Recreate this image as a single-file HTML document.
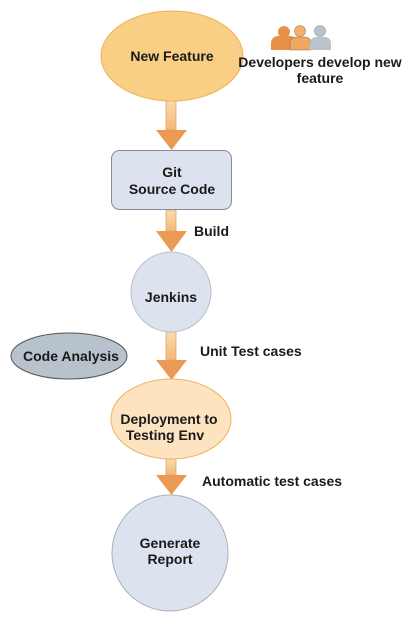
<!DOCTYPE html>
<html><head><meta charset="utf-8"><style>
html,body{margin:0;padding:0;background:#fff;}
svg text{font-family:"Liberation Sans",sans-serif;font-weight:bold;font-size:14px;fill:#1a1a1a;}
</style></head><body>
<svg width="416" height="622" viewBox="0 0 416 622" xmlns="http://www.w3.org/2000/svg">
<defs>
<linearGradient id="sh" x1="0" x2="0" y1="0" y2="1"><stop offset="0" stop-color="#f9dcb0"/><stop offset="1" stop-color="#f3b878"/></linearGradient>
</defs>
<g fill="url(#sh)" stroke="#e0a46a" stroke-width="0.8">
<rect x="166" y="100" width="10" height="30"/>
<rect x="166" y="210" width="10" height="21"/>
<rect x="166" y="332" width="10" height="28"/>
<rect x="166" y="459" width="10" height="16"/>
</g>
<g fill="#eb9a55">
<polygon points="156,130 187,130 171.5,150"/>
<polygon points="156,231 187,231 171.5,252"/>
<polygon points="156,360 187,360 171.5,380"/>
<polygon points="156,475 187,475 171.5,495"/>
</g>
<ellipse cx="172" cy="56" rx="71" ry="45" fill="#f9cf85" stroke="#f0b058" stroke-width="1"/>
<text x="172" y="61" text-anchor="middle">New Feature</text>
<rect x="111.5" y="150.5" width="120" height="59" rx="8" fill="#dce2ee" stroke="#8a8a99"/>
<text x="172" y="177" text-anchor="middle">Git</text>
<text x="172" y="194" text-anchor="middle">Source Code</text>
<circle cx="171" cy="292" r="40" fill="#dce2ee" stroke="#b8c0cc"/>
<text x="171" y="302" text-anchor="middle">Jenkins</text>
<ellipse cx="69" cy="356" rx="58" ry="23" fill="#b7c2cc" stroke="#555" stroke-width="1"/>
<text x="71" y="361" text-anchor="middle">Code Analysis</text>
<ellipse cx="171" cy="419" rx="60" ry="40" fill="#fde3c0" stroke="#f0b058"/>
<text x="169" y="424" text-anchor="middle">Deployment to</text>
<text x="165" y="440" text-anchor="middle">Testing Env</text>
<circle cx="170" cy="553" r="58" fill="#dce2ee" stroke="#a8b0bc"/>
<text x="170" y="548" text-anchor="middle">Generate</text>
<text x="170" y="564" text-anchor="middle">Report</text>
<text x="194" y="236">Build</text>
<text x="200" y="356">Unit Test cases</text>
<text x="202" y="486">Automatic test cases</text>
<text x="320" y="67" text-anchor="middle">Developers develop new</text>
<text x="320" y="83" text-anchor="middle">feature</text>
<g>
<circle cx="284" cy="32" r="6" fill="#e8914a"/>
<path d="M271,50 v-7 a7,7 0 0 1 7,-7 h12 a7,7 0 0 1 7,7 v7 z" fill="#e8914a"/>
<circle cx="300" cy="31" r="5.5" fill="#f2b069" stroke="#c07a40" stroke-width="0.6"/>
<path d="M290,50 v-7 a6,6 0 0 1 6,-6 h9 a6,6 0 0 1 6,6 v7 z" fill="#f0a860" stroke="#8a6a55" stroke-width="0.6"/>
<circle cx="320" cy="31" r="5.5" fill="#b9c3cc" stroke="#8a9aa8" stroke-width="0.6"/>
<path d="M310,50 v-7 a6,6 0 0 1 6,-6 h9 a6,6 0 0 1 6,6 v7 z" fill="#b9c3cc"/>
</g>
</svg>
</body></html>
